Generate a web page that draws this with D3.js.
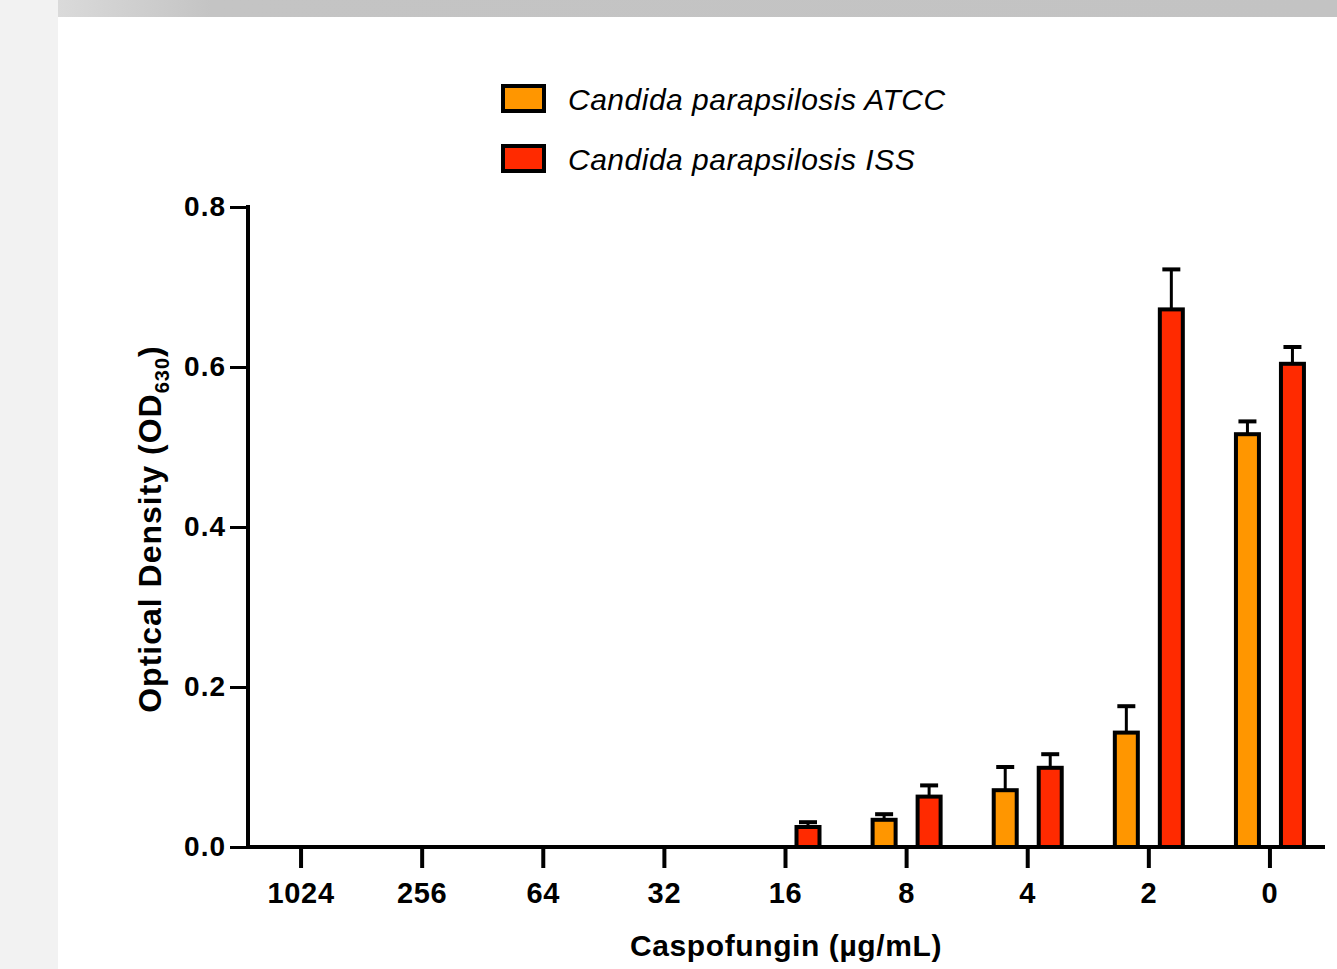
<!DOCTYPE html>
<html>
<head>
<meta charset="utf-8">
<script src="https://cdn.jsdelivr.net/npm/d3@7"></script>
<style>
  body { margin: 0; background: #fff; }
  svg { display: block; }
  text { font-family: "Liberation Sans", Arial, sans-serif; }
</style>
</head>
<body>
<div id="chart"></div>
<script>
var categories = ['1024', '256', '64', '32', '16', '8', '4', '2', '0'];
var seriesNames = ['Candida parapsilosis ATCC', 'Candida parapsilosis ISS'];
var atccValues = [0, 0, 0, 0, 0, 0.034, 0.071, 0.143, 0.516];
var atccErrors = [0, 0, 0, 0, 0, 0.007, 0.029, 0.033, 0.016];
var issValues = [0, 0, 0, 0, 0.025, 0.063, 0.099, 0.672, 0.604];
var issErrors = [0, 0, 0, 0, 0.006, 0.014, 0.017, 0.05, 0.021];
var yTicks = [0, 0.2, 0.4, 0.6, 0.8];
var colors = ['#ff9600', '#ff2a00'];

var width = 1337, height = 969;

var svg = d3.select('#chart').append('svg').attr('width', width).attr('height', height);

// page background pieces
var grad = svg.append('defs').append('linearGradient').attr('id', 'topbar');
grad.append('stop').attr('offset', '0%').attr('stop-color', '#dadada');
grad.append('stop').attr('offset', '12%').attr('stop-color', '#c4c4c4');
grad.append('stop').attr('offset', '100%').attr('stop-color', '#c3c3c3');
svg.append('rect').attr('x', 0).attr('y', 0).attr('width', 58).attr('height', height).attr('fill', '#f2f2f2');
svg.append('rect').attr('x', 58).attr('y', 0).attr('width', width - 58).attr('height', 17).attr('fill', 'url(#topbar)');

var x = d3.scaleBand().domain(categories).range([240.5, 1330.5]);
var xs = d3.scalePoint().domain(seriesNames).range([-22.5, 22.5]);
var y = d3.scaleLinear().domain([0, 0.8]).range([847, 207]);
var barW = 23;

// bars
var data = [];
categories.forEach(function(c, i) {
    data.push({ cat: c, s: 0, v: atccValues[i], e: atccErrors[i] });
    data.push({ cat: c, s: 1, v: issValues[i], e: issErrors[i] });
});
var drawn = data.filter(function(d) { return d.v > 0; });

function cx(d) { return x(d.cat) + x.bandwidth() / 2 + xs(seriesNames[d.s]); }

var g = svg.append('g');
g.selectAll('line.err')
    .data(drawn)
    .enter()
    .append('line')
    .attr('x1', cx)
    .attr('x2', cx)
    .attr('y1', function(d) { return y(d.v); })
    .attr('y2', function(d) { return y(d.v + d.e); })
    .attr('stroke', '#000').attr('stroke-width', 3);
g.selectAll('line.cap')
    .data(drawn)
    .enter()
    .append('line')
    .attr('x1', function(d) { return cx(d) - 9; })
    .attr('x2', function(d) { return cx(d) + 9; })
    .attr('y1', function(d) { return y(d.v + d.e); })
    .attr('y2', function(d) { return y(d.v + d.e); })
    .attr('stroke', '#000').attr('stroke-width', 4);
g.selectAll('rect.bar')
    .data(drawn)
    .enter()
    .append('rect')
    .attr('x', function(d) { return cx(d) - barW / 2; })
    .attr('y', function(d) { return y(d.v); })
    .attr('width', barW)
    .attr('height', function(d) { return y(0) - y(d.v); })
    .attr('fill', function(d) { return colors[d.s]; })
    .attr('stroke', '#000').attr('stroke-width', 4);

// y axis
var yAxis = svg.append('g').attr('transform', 'translate(248,0)')
    .call(d3.axisLeft(y).tickValues(yTicks).tickFormat(d3.format('.1f')).tickSize(18).tickPadding(4));
yAxis.select('.domain').attr('stroke-width', 4).attr('d', 'M0,205V849');
yAxis.selectAll('.tick line').attr('stroke-width', 3);
yAxis.selectAll('.tick text').attr('font-size', 28).attr('font-weight', 'bold').attr('fill', '#000')
    .attr('letter-spacing', 1)
    .attr('font-family', '"Liberation Sans", Arial, sans-serif');

// x axis
var xAxis = svg.append('g').attr('transform', 'translate(0,847)')
    .call(d3.axisBottom(x).tickSize(21).tickPadding(14));
xAxis.select('.domain').attr('stroke-width', 4).attr('d', 'M246,0H1325');
xAxis.selectAll('.tick line').attr('stroke-width', 4);
xAxis.selectAll('.tick text').attr('font-size', 29).attr('font-weight', 'bold').attr('fill', '#000')
    .attr('letter-spacing', 0.7)
    .attr('font-family', '"Liberation Sans", Arial, sans-serif');

// axis titles
svg.append('text')
    .attr('x', 786).attr('y', 956)
    .attr('text-anchor', 'middle')
    .attr('font-size', 30).attr('font-weight', 'bold')
    .attr('letter-spacing', 0.6)
    .text('Caspofungin (\u00b5g/mL)');

var yt = svg.append('text')
    .attr('transform', 'translate(161,529) rotate(-90)')
    .attr('text-anchor', 'middle')
    .attr('font-size', 32).attr('font-weight', 'bold')
    .attr('letter-spacing', 1);
yt.append('tspan').text('Optical Density (OD');
yt.append('tspan').attr('font-size', 20).attr('dy', 8).text('630');
yt.append('tspan').attr('dy', -8).text(')');

// legend
var legend = svg.append('g');
var leg = legend.selectAll('g')
    .data(seriesNames)
    .enter()
    .append('g')
    .attr('transform', function(d, i) { return 'translate(503,' + (86 + i * 60) + ')'; });
leg.append('rect')
    .attr('width', 41).attr('height', 25)
    .attr('fill', function(d, i) { return colors[i]; })
    .attr('stroke', '#000').attr('stroke-width', 4);
leg.append('text')
    .attr('x', 65).attr('y', 24)
    .attr('font-size', 30).attr('font-style', 'italic')
    .attr('letter-spacing', 0.5)
    .text(function(d) { return d; });
</script>
</body>
</html>
